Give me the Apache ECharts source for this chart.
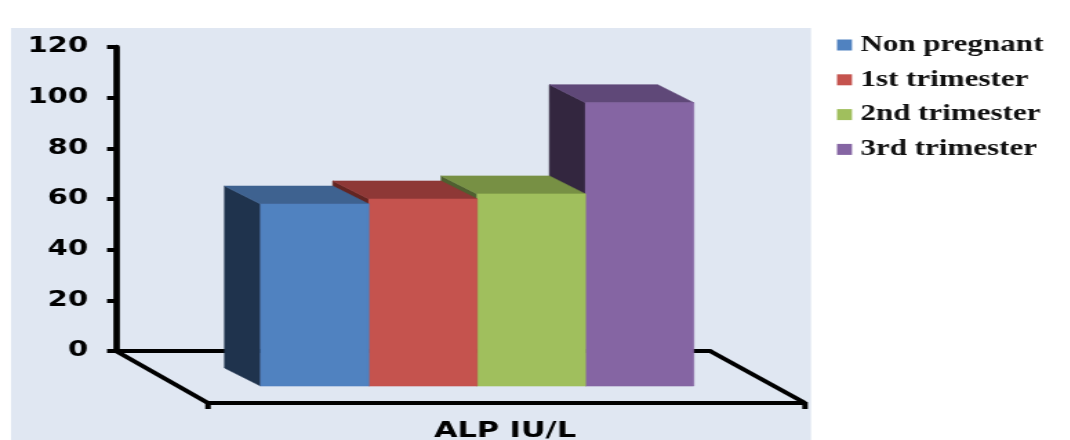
<!DOCTYPE html>
<html>
<head>
<meta charset="utf-8">
<style>
  html, body { margin: 0; padding: 0; background: #fff; width: 1070px; height: 440px; overflow: hidden; }
  #chart { height: 440px; transform-origin: 0 0; }
</style>
<script src="https://cdn.jsdelivr.net/npm/echarts@6/dist/echarts.min.js"></script>
</head>
<body>
<div id="chart"></div>
<script>
// ALP levels by pregnancy stage
const categories = ['ALP IU/L'];
const seriesNames = ['Non pregnant', '1st trimester', '2nd trimester', '3rd trimester'];
const nonPregnant = [58];
const firstTrimester = [60];
const secondTrimester = [62];
const thirdTrimester = [98];
const yTicks = { min: 0, max: 120, interval: 20 };

// Each bar has three shades: front, top, side
const shades = [
  ['#5082C0', '#3E6290', '#1F334D'],
  ['#C5534E', '#8E3836', '#632522'],
  ['#A0BF5D', '#779044', '#4F6030'],
  ['#8565A3', '#5F4878', '#33263F']
];
const allValues = [nonPregnant, firstTrimester, secondTrimester, thirdTrimester];

// The whole drawing is widened horizontally, so x measures are divided by this
const STRETCH = 1.38;
const X = v => v / STRETCH;
const WIDTH = 1070 / STRETCH;

const DEPTH_X = X(36), DEPTH_Y = 18, BASE_DROP = 35;
const BAR_FRACTION = 0.1823, BAR_SHIFT = 0.108;

const el = document.getElementById('chart');
el.style.width = WIDTH + 'px';
el.style.transform = 'scaleX(' + STRETCH + ')';
const chart = echarts.init(el, null, { renderer: 'canvas', width: WIDTH, height: 440 });

function bar3d(index, color) {
  return function (params, api) {
    const top = api.coord([api.value(0), api.value(1)]);
    const base = api.coord([api.value(0), 0]);
    const band = api.size([1, 0])[0];
    const w = band * BAR_FRACTION;
    const x0 = top[0] + band * BAR_SHIFT - 2 * w + index * w;
    const x1 = x0 + w;
    const yTop = top[1];
    const yBot = base[1] + BASE_DROP;
    // A hairline stroke in the fill colour closes the seams between faces
    const poly = (points, fill) => ({
      type: 'polygon',
      shape: { points },
      style: { fill, stroke: fill, lineWidth: 0.6 }
    });
    return {
      type: 'group',
      children: [
        poly([[x0 - DEPTH_X, yTop - DEPTH_Y], [x0, yTop], [x0, yBot], [x0 - DEPTH_X, yBot - DEPTH_Y]], color[2]),
        poly([[x0 - DEPTH_X, yTop - DEPTH_Y], [x1 - DEPTH_X, yTop - DEPTH_Y], [x1, yTop], [x0, yTop]], color[1]),
        poly([[x0, yTop], [x1, yTop], [x1, yBot], [x0, yBot]], color[0])
      ]
    };
  };
}

// Floor edges running forward from the back axis line
function floor(params, api) {
  const rect = params.coordSys;
  const y = api.coord([0, 0])[1];
  const left = rect.x, right = rect.x + rect.width;
  const frontY = y + 52;
  const line = (x1, y1, x2, y2) => ({
    type: 'line',
    shape: { x1, y1, x2, y2 },
    style: { stroke: '#000', lineWidth: 4 }
  });
  const fl = left + X(92), fr = right + X(95);
  return {
    type: 'group',
    children: [
      line(left, y, fl, frontY),
      line(right, y, fr, frontY),
      line(fl, frontY, fr, frontY),
      line(fl, frontY - 1, fl, frontY + 6),
      line(fr, frontY - 1, fr, frontY + 6)
    ]
  };
}

const barSeries = seriesNames.map((name, i) => ({
  name,
  type: 'custom',
  coordinateSystem: 'cartesian2d',
  renderItem: bar3d(i, shades[i]),
  encode: { x: 0, y: 1 },
  data: allValues[i].map((v, k) => [k, v]),
  itemStyle: { color: shades[i][0] },
  z: 10 - i,
  silent: true,
  animation: false,
  clip: false
}));

chart.setOption({
  animation: false,
  backgroundColor: '#fff',
  graphic: [{
    type: 'rect',
    z: -10,
    shape: { x: X(11), y: 28, width: X(800), height: 412 },
    style: { fill: '#E0E7F2' }
  }],
  grid: {
    left: X(116),
    width: X(594),
    top: 47,
    height: 304,
    containLabel: false,
    outerBoundsMode: 'none'
  },
  legend: {
    orient: 'vertical',
    left: X(837) - 5,
    top: 28.5,
    itemWidth: X(15),
    itemHeight: 11,
    itemGap: 11.8,
    icon: 'rect',
    data: seriesNames,
    selectedMode: false,
    textStyle: {
      fontFamily: 'Liberation Serif',
      fontWeight: 'bold',
      fontSize: 22.5,
      lineHeight: 23,
      color: '#111',
      padding: [0, 0, 0, 1]
    }
  },
  xAxis: {
    type: 'category',
    data: categories,
    axisLine: { lineStyle: { color: '#000', width: 4 } },
    axisTick: { show: false },
    axisLabel: {
      margin: 69,
      padding: [0, 0, 0, X(184)],
      fontFamily: 'DejaVu Sans',
      fontWeight: 'bold',
      fontSize: 22,
      color: '#000'
    }
  },
  yAxis: {
    type: 'value',
    min: yTicks.min,
    max: yTicks.max,
    interval: yTicks.interval,
    splitLine: { show: false },
    axisLine: { show: true, lineStyle: { color: '#000', width: X(6.5) } },
    axisTick: { show: true, length: X(9), lineStyle: { color: '#000', width: 4 } },
    axisLabel: {
      margin: X(28),
      padding: [5, 0, 0, 0],
      fontFamily: 'DejaVu Sans',
      fontWeight: 'bold',
      fontSize: 21,
      color: '#000'
    }
  },
  series: [{
    name: 'floor',
    type: 'custom',
    coordinateSystem: 'cartesian2d',
    renderItem: floor,
    encode: { x: 0, y: 1 },
    data: [[0, 0]],
    z: 1,
    silent: true,
    animation: false,
    clip: false
  }].concat(barSeries)
});
</script>
</body>
</html>
